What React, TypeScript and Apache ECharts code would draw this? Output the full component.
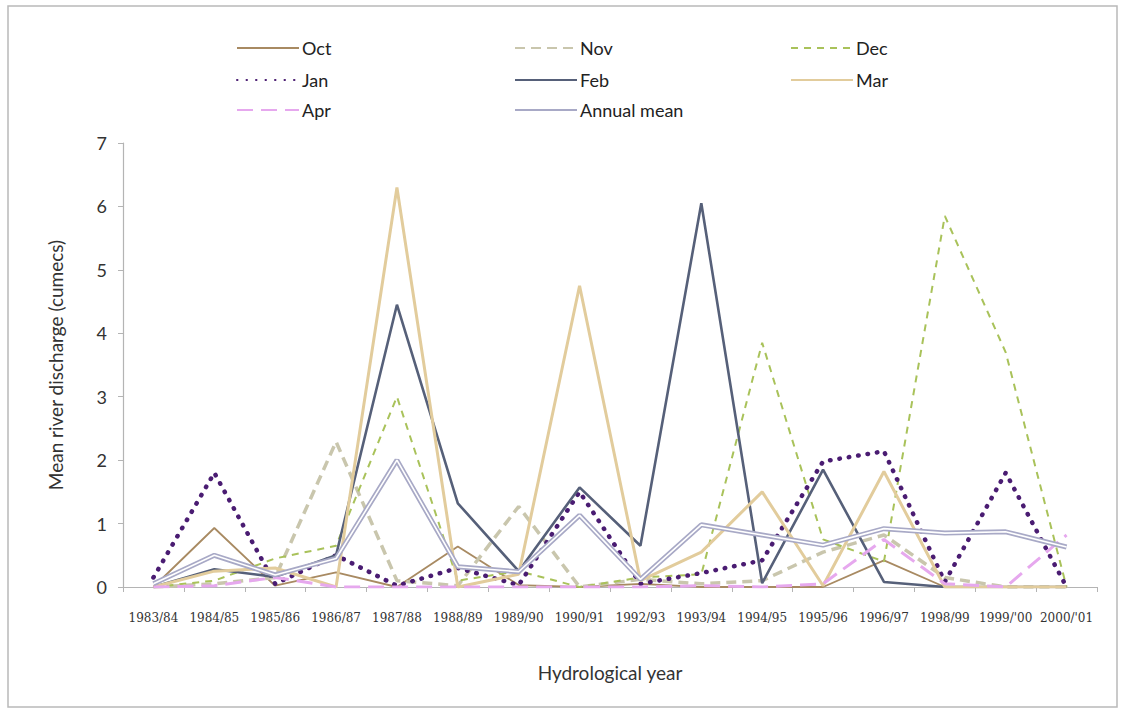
import React, { useEffect, useRef } from "react";
import * as echarts from "echarts";

// Hydrological years shown on the category axis
const years = [
  "1983/84", "1984/85", "1985/86", "1986/87", "1987/88", "1988/89", "1989/90", "1990/91",
  "1992/93", "1993/94", "1994/95", "1995/96", "1996/97", "1998/99", "1999/'00", "2000/'01",
];

// Mean monthly river discharge (cumecs)
const oct = [0.0, 0.93, 0.02, 0.23, 0.0, 0.64, 0.03, 0.0, 0.05, 0.0, 0.0, 0.0, 0.42, 0.0, 0.0, 0.0];
const nov = [0.0, 0.05, 0.15, 2.29, 0.1, 0.02, 1.27, 0.0, 0.12, 0.05, 0.1, 0.55, 0.82, 0.15, 0.0, 0.0];
const dec = [0.0, 0.1, 0.45, 0.65, 3.0, 0.1, 0.25, 0.0, 0.15, 0.2, 3.85, 0.75, 0.4, 5.85, 3.7, 0.0];
const jan = [0.15, 1.8, 0.05, 0.5, 0.02, 0.3, 0.03, 1.5, 0.05, 0.22, 0.42, 1.98, 2.14, 0.08, 1.8, 0.0];
const feb = [0.0, 0.28, 0.16, 0.5, 4.45, 1.32, 0.25, 1.57, 0.65, 6.05, 0.06, 1.85, 0.08, 0.0, 0.0, 0.0];
const mar = [0.0, 0.25, 0.3, 0.0, 6.3, 0.0, 0.2, 4.75, 0.1, 0.55, 1.5, 0.02, 1.82, 0.0, 0.0, 0.0];
const apr = [0.0, 0.02, 0.15, 0.0, 0.0, 0.0, 0.0, 0.0, 0.0, 0.02, 0.0, 0.05, 0.75, 0.05, 0.0, 0.82];
const annualMean = [0.05, 0.5, 0.19, 0.45, 2.0, 0.32, 0.24, 1.13, 0.12, 0.98, 0.82, 0.66, 0.92, 0.85, 0.87, 0.63];

// Y axis ticks
const yMin = 0;
const yMax = 7;
const yStep = 1;

const FONT = "Lato, 'Noto Sans', sans-serif";

export default function App() {
  const ref = useRef<HTMLDivElement>(null);

  useEffect(() => {
    if (!ref.current) return;
    const chart = echarts.init(ref.current, undefined, { renderer: "svg" });

    const line = (name: string, data: number[], color: string, width: number, type: any, extra: any = {}) => ({
      name,
      type: "line",
      data,
      symbol: "none",
      lineStyle: { color, width, type, ...extra },
      itemStyle: { color },
      z: 2,
    });

    const series: any[] = [
      line("Oct", oct, "#a88a62", 1.8, "solid"),
      line("Nov", nov, "#c9c6ad", 3.5, [10, 6]),
      line("Dec", dec, "#a9c25a", 2, [7, 6]),
      line("Jan", jan, "#4a1c72", 4.5, [0.5, 9], { cap: "round" }),
      line("Feb", feb, "#566079", 2.6, "solid"),
      line("Mar", mar, "#e2cc9c", 3, "solid"),
      line("Apr", apr, "#e6a8ee", 3, [16, 8]),
      line("Annual mean", annualMean, "#a8a9c6", 5, "solid"),
      {
        name: "Annual mean inner",
        type: "line",
        data: annualMean,
        symbol: "none",
        lineStyle: { color: "#ffffff", width: 1.6 },
        z: 3,
        silent: true,
      },
    ];

    // Legend laid out as a 3 x 3 grid of single-item legends
    const legendItems = [
      { name: "Oct", left: 236, row: 0 },
      { name: "Nov", left: 514, row: 0 },
      { name: "Dec", left: 790, row: 0 },
      { name: "Jan", left: 236, row: 1 },
      { name: "Feb", left: 514, row: 1 },
      { name: "Mar", left: 790, row: 1 },
      { name: "Apr", left: 236, row: 2 },
      { name: "Annual mean", left: 514, row: 2 },
    ];
    const rowTops = [39, 71, 101];
    const legend = legendItems.map((it) => ({
      data: [it.name],
      left: it.left,
      top: rowTops[it.row],
      itemWidth: 62,
      itemHeight: 12,
      itemGap: 4,
      padding: 0,
      itemStyle: { opacity: 0 },
      textStyle: { fontFamily: FONT, fontSize: 18, color: "#222", padding: [0, 0, 0, -2] },
    }));

    chart.setOption({
      animation: false,
      backgroundColor: "#ffffff",
      legend,
      grid: { left: 123, right: 24, top: 143, bottom: 125 },
      xAxis: {
        type: "category",
        data: years,
        boundaryGap: true,
        name: "Hydrological year",
        nameLocation: "middle",
        nameGap: 76,
        nameTextStyle: { fontFamily: FONT, fontSize: 19, color: "#333" },
        axisLine: { lineStyle: { color: "#b4b4b4", width: 1.2 } },
        axisTick: { show: true, length: 5, lineStyle: { color: "#b4b4b4" } },
        axisLabel: {
          interval: 0,
          margin: 25,
          fontFamily: "'DejaVu Serif', serif",
          fontSize: 12,
          color: "#333",
        },
        splitLine: { show: false },
      },
      yAxis: {
        type: "value",
        min: yMin,
        max: yMax,
        interval: yStep,
        name: "Mean river discharge (cumecs)",
        nameLocation: "middle",
        nameRotate: 90,
        nameGap: 58,
        nameTextStyle: { fontFamily: FONT, fontSize: 19, color: "#333" },
        axisLine: { show: true, lineStyle: { color: "#b4b4b4", width: 1.2 } },
        axisTick: { show: true, length: 5, lineStyle: { color: "#b4b4b4" } },
        axisLabel: { fontFamily: FONT, fontSize: 18, color: "#333", margin: 16 },
        splitLine: { show: false },
      },
      graphic: [
        {
          type: "rect",
          shape: { x: 8, y: 6, width: 1109, height: 701 },
          style: { fill: "none", stroke: "#b9b9b9", lineWidth: 1.5 },
          silent: true,
          z: -1,
        },
      ],
      series,
    });

    return () => chart.dispose();
  }, []);

  return (
    <div
      ref={ref}
      style={{ position: "fixed", left: 0, top: 0, width: 1121, height: 712, background: "#fff" }}
    />
  );
}
